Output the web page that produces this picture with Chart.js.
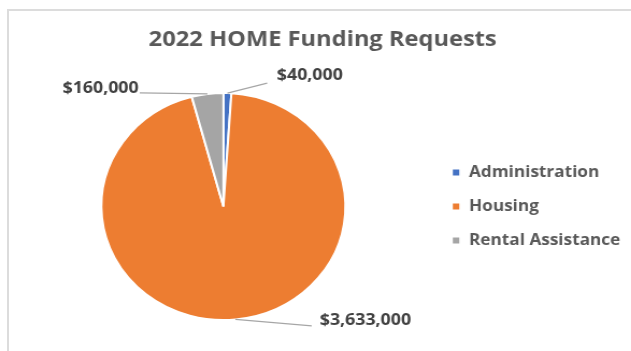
<!DOCTYPE html>
<html>
<head>
<meta charset="utf-8">
<script src="https://cdn.jsdelivr.net/npm/chart.js@4.4.1/dist/chart.umd.min.js"></script>
<style>
    html, body { margin: 0; padding: 0; background: #fff; overflow: hidden; }
    #frame {
        position: absolute; left: 7px; top: 9px; width: 700px; height: 400px;
        border: 2px solid #dcdcdc;
    }
    #pieChart {
        position: absolute; left: 0; top: 0;
        transform: scaleX(1.075); transform-origin: 0 0;
    }
</style>
</head>
<body>
<div id="frame"></div>
<canvas id="pieChart" width="587" height="351"></canvas>
<script>

// ------------HOME FUNDING REQUESTS PIE------------------ //

var categories = ["Administration", "Housing", "Rental Assistance"];
var amounts = [40000, 3633000, 160000];
var sliceColors = ['#4472C4', '#ED7D31', '#A5A5A5'];

// leader line end (relative to slice edge) and text offset from the line end
var callouts = [
    { line: [37, -10], text: [9, -8], align: 'left' },
    { line: [71, 6.5], text: [7.5, -6], align: 'left' },
    { line: [-63, -1], text: [-1, -5], align: 'right' }
];

var fontFamily = "'Open Sans', sans-serif";

var calloutLabels = {
    id: 'calloutLabels',
    afterDatasetsDraw: function (chart) {
        var ctx = chart.ctx;
        var meta = chart.getDatasetMeta(0);
        ctx.save();
        ctx.font = "bold 16.5px " + fontFamily;
        ctx.textBaseline = 'middle';
        meta.data.forEach(function (arc, i) {
            var p = arc.getProps(['x', 'y', 'startAngle', 'endAngle', 'outerRadius'], true);
            var mid = (p.startAngle + p.endAngle) / 2;
            var ax = p.x + Math.cos(mid) * p.outerRadius;
            var ay = p.y + Math.sin(mid) * p.outerRadius;
            var c = callouts[i];
            var ex = ax + c.line[0];
            var ey = ay + c.line[1];
            ctx.strokeStyle = '#a6a6a6';
            ctx.lineWidth = 1.2;
            ctx.beginPath();
            ctx.moveTo(ax, ay);
            ctx.lineTo(ex, ey);
            ctx.stroke();
            ctx.fillStyle = '#404040';
            ctx.textAlign = c.align;
            ctx.fillText('$' + amounts[i].toLocaleString('en-US'), ex + c.text[0], ey + c.text[1]);
        });
        ctx.restore();
    }
};

new Chart("pieChart", {
    type: "pie",
    data: {
        labels: categories,
        datasets: [{
            data: amounts,
            backgroundColor: sliceColors,
            borderColor: '#ffffff',
            borderWidth: 2,
            hoverOffset: 0
        }]
    },
    options: {
        responsive: false,
        animation: false,
        events: [],
        layout: {
            padding: { top: 0, left: 13.4, right: 0, bottom: 30 }
        },
        plugins: {
            title: {
                display: true,
                text: "2022 HOME Funding Requests",
                color: '#595959',
                font: { family: fontFamily, size: 22, weight: 'bold' },
                padding: { top: 27, bottom: 38.6 }
            },
            legend: {
                position: 'right',
                fullSize: false,
                labels: {
                    boxWidth: 8,
                    boxHeight: 8,
                    padding: 18,
                    color: '#595959',
                    font: { family: fontFamily, size: 16, weight: 'bold' }
                }
            },
            tooltip: { enabled: false }
        }
    },
    plugins: [calloutLabels]
});
</script>
</body>
</html>
